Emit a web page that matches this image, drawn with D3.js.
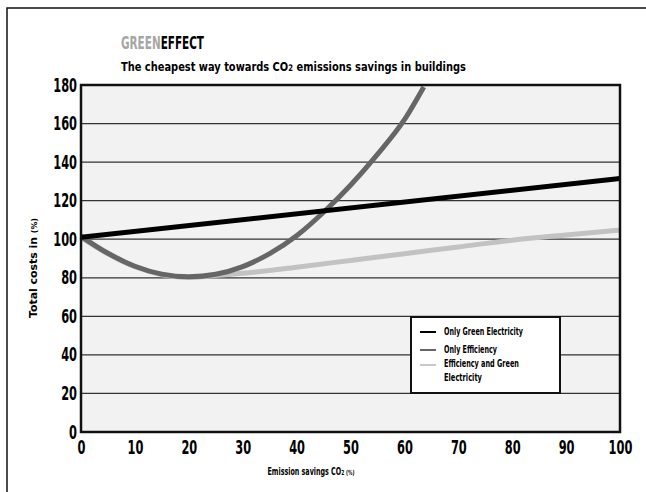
<!DOCTYPE html>
<html lang="en">
<head>
<meta charset="UTF-8"/>
<title>Green Effect - cheapest way towards CO2 savings</title>
<script src="https://d3js.org/d3.v7.min.js"></script>
<style>
    body { margin: 0; background: #fff; }
    text { font-family: "DejaVu Sans", sans-serif; font-weight: bold; }
</style>
</head>
<body>
<script>
    //chart data
    var savings = [0, 5, 10, 15, 20, 25, 30, 35, 40, 45, 50, 55, 60, 63.6];
    var onlyEfficiency = [101.5, 92.7, 86, 81.9, 80.5, 81.8, 85.8, 92.5, 101.8, 114, 128, 144, 162, 179];

    var savingsMix = [0, 5, 10, 15, 20, 25, 30, 40, 50, 60, 70, 80, 90, 100];
    var efficiencyGreen = [101, 92.4, 85.7, 81.6, 80.2, 81.2, 82.3, 85.5, 89, 92.5, 96, 99.5, 102.2, 104.7];

    var savingsGreen = [0, 100];
    var onlyGreen = [101, 131.5];

    var xTicks = [0, 10, 20, 30, 40, 50, 60, 70, 80, 90, 100];
    var yTicks = [0, 20, 40, 60, 80, 100, 120, 140, 160, 180];

    var legendLabels = ["Only Green Electricity", "Only Efficiency", "Efficiency and Green", "Electricity"];

    var w = 646;
    var h = 492;

    //squeeze a text sideways to look like the condensed face of the original
    function squeeze(sel, sx) {
        sel.each(function () {
            var t = d3.select(this);
            var x = +t.attr("x") || 0;
            var y = +t.attr("y") || 0;
            t.attr("x", 0).attr("y", 0)
                .attr("transform", "translate(" + x + "," + y + ") scale(" + sx + ",1)");
        });
    }

    //a line of text made of pieces of different sizes, squeezed to a given width
    function textRun(parent, pieces, x, y, width, anchor, extra) {
        var g = parent.append("g");
        var cx = 0;
        pieces.forEach(function (p) {
            var t = g.append("text")
                .attr("xml:space", "preserve")
                .style("white-space", "pre")
                .attr("x", cx)
                .attr("y", 0)
                .attr("font-size", p[1] + "px")
                .attr("fill", p[2] || "#000")
                .text(p[0]);
            cx += t.node().getComputedTextLength();
        });
        var sx = width / cx;
        var left = anchor === "middle" ? -width / 2 : 0;
        g.attr("transform", "translate(" + x + "," + y + ")" + (extra || "") +
            " translate(" + left + ",0) scale(" + sx + ",1)");
        return g;
    }

    var svg = d3.select("body")
        .append("svg")
        .attr("width", w)
        .attr("height", h);

    //outer frame
    svg.append("rect")
        .attr("x", 7)
        .attr("y", 8)
        .attr("width", 660)
        .attr("height", 520)
        .attr("fill", "none")
        .attr("stroke", "#111")
        .attr("stroke-width", 1.5);

    //scales
    var xScale = d3.scaleLinear()
        .domain([0, 100])
        .range([81, 620]);

    var yScale = d3.scaleLinear()
        .domain([0, 180])
        .range([432, 85]);

    //plot background
    svg.append("rect")
        .attr("x", xScale(0))
        .attr("y", yScale(180))
        .attr("width", xScale(100) - xScale(0))
        .attr("height", yScale(0) - yScale(180))
        .attr("fill", "#f2f2f2");

    //grid lines
    svg.selectAll("line.grid")
        .data(yTicks.slice(1, -1))
        .enter()
        .append("line")
        .attr("class", "grid")
        .attr("x1", xScale(0))
        .attr("x2", xScale(100))
        .attr("y1", function (d) { return yScale(d); })
        .attr("y2", function (d) { return yScale(d); })
        .attr("stroke", "#333")
        .attr("stroke-width", 1.3);

    //lines
    var line = d3.line()
        .x(function (d) { return xScale(d[0]); })
        .y(function (d) { return yScale(d[1]); })
        .curve(d3.curveMonotoneX);

    svg.append("path")
        .datum(d3.zip(savingsMix, efficiencyGreen))
        .attr("d", line)
        .attr("fill", "none")
        .attr("stroke", "#c2c2c2")
        .attr("stroke-width", 5);

    svg.append("path")
        .datum(d3.zip(savings, onlyEfficiency))
        .attr("d", line)
        .attr("fill", "none")
        .attr("stroke", "#666")
        .attr("stroke-width", 5);

    svg.append("path")
        .datum(d3.zip(savingsGreen, onlyGreen))
        .attr("d", line)
        .attr("fill", "none")
        .attr("stroke", "#000")
        .attr("stroke-width", 5);

    //plot border
    svg.append("rect")
        .attr("x", xScale(0))
        .attr("y", yScale(180))
        .attr("width", xScale(100) - xScale(0))
        .attr("height", yScale(0) - yScale(180))
        .attr("fill", "none")
        .attr("stroke", "#111")
        .attr("stroke-width", 2.5);

    //axes (labels only)
    var xAxis = d3.axisBottom(xScale)
        .tickValues(xTicks)
        .tickSize(0)
        .tickPadding(9);

    var gx = svg.append("g")
        .attr("transform", "translate(0," + yScale(0) + ")")
        .call(xAxis);
    gx.select(".domain").remove();
    gx.attr("font-family", null).attr("font-size", null);
    gx.selectAll("text")
        .attr("font-size", "19px")
        .attr("fill", "#000");
    squeeze(gx.selectAll("text"), 0.6);

    var yAxis = d3.axisLeft(yScale)
        .tickValues(yTicks)
        .tickSize(0)
        .tickPadding(4);

    var gy = svg.append("g")
        .attr("transform", "translate(" + xScale(0) + ",0)")
        .call(yAxis);
    gy.select(".domain").remove();
    gy.attr("font-family", null).attr("font-size", null);
    gy.selectAll("text")
        .attr("font-size", "19px")
        .attr("fill", "#000");
    squeeze(gy.selectAll("text"), 0.6);

    //title
    textRun(svg, [["GREEN", 17, "#a6a6a6"], ["EFFECT", 17, "#000"]], 121, 49, 83);
    textRun(svg, [["The cheapest way towards CO", 13], ["2", 9], [" emissions savings in buildings", 13]], 121, 71, 345);

    //axis titles
    textRun(svg, [["Total costs in ", 11], ["(%)", 8]], 37, 268, 100, "middle", " rotate(-90)");
    textRun(svg, [["Emission savings CO", 10], ["2", 7], [" (%)", 7]], 311, 475, 87, "middle");

    //legend
    var legend = svg.append("g").attr("transform", "translate(411,317)");
    legend.append("rect")
        .attr("width", 149)
        .attr("height", 76)
        .attr("fill", "#fff")
        .attr("stroke", "#111")
        .attr("stroke-width", 2);

    var legendColors = ["#000", "#666", "#c8c8c8"];
    var legendLineY = [15, 33, 48];
    var legendTextY = [18, 36, 50, 64];
    var legendWidths = [79, 53, 75, 38];

    legend.selectAll("line.key")
        .data(legendColors)
        .enter()
        .append("line")
        .attr("class", "key")
        .attr("x1", 9)
        .attr("x2", 25)
        .attr("y1", function (d, i) { return legendLineY[i]; })
        .attr("y2", function (d, i) { return legendLineY[i]; })
        .attr("stroke", function (d) { return d; })
        .attr("stroke-width", 2);

    legendLabels.forEach(function (d, i) {
        textRun(legend, [[d, 10]], 33, legendTextY[i], legendWidths[i]);
    });
</script>
</body>
</html>
